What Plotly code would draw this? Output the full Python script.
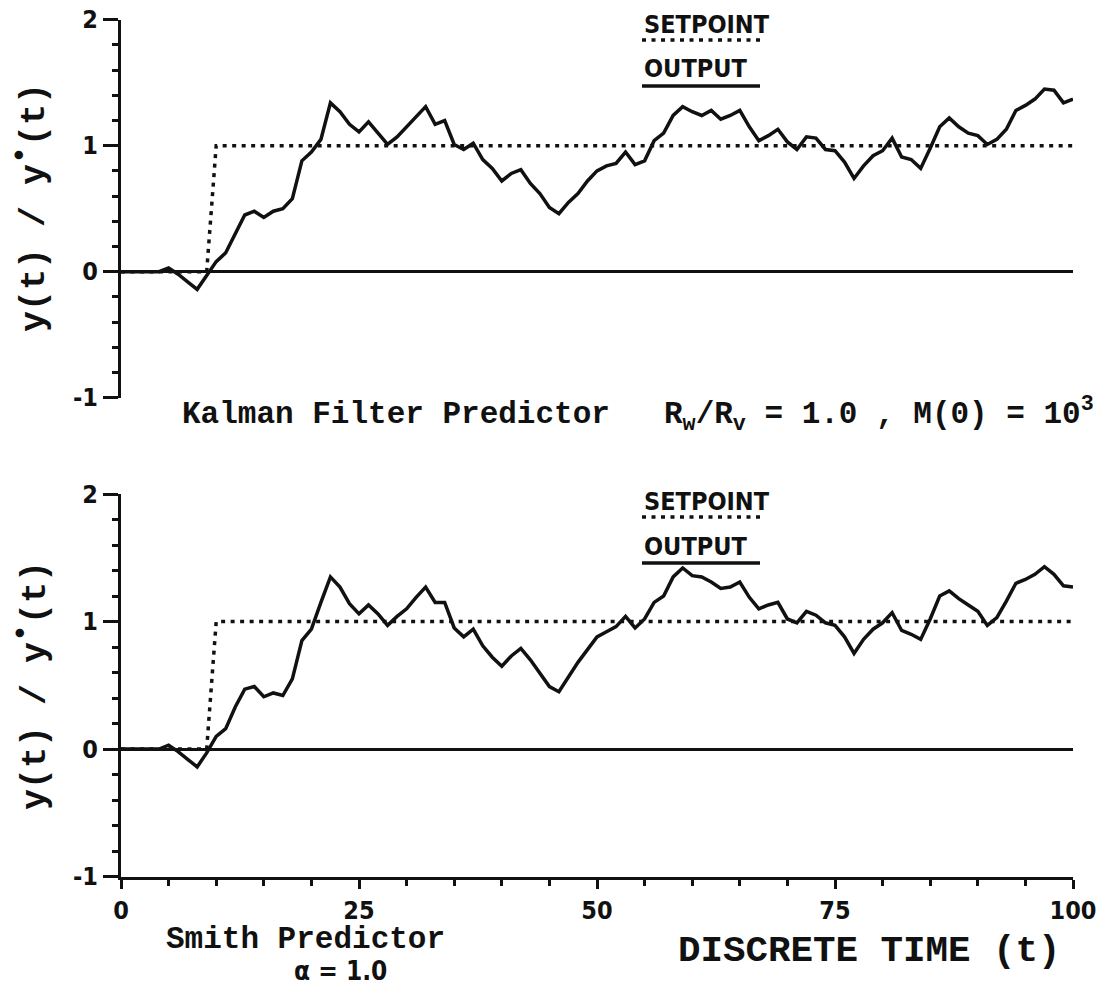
import plotly.graph_objects as go

# Discrete time axis (one sample per step)
t = list(range(0, 101))

# Output response, Kalman filter predictor
y_kalman = [
    0.00, 0.00, 0.00, 0.00, 0.00, 0.03, -0.02, -0.08, -0.14, -0.03,
    0.08, 0.15, 0.30, 0.45, 0.48, 0.43, 0.48, 0.50, 0.58, 0.88,
    0.95, 1.05, 1.34, 1.27, 1.17, 1.11, 1.19, 1.10, 1.01, 1.07,
    1.15, 1.23, 1.31, 1.17, 1.20, 1.01, 0.97, 1.02, 0.89, 0.82,
    0.72, 0.78, 0.81, 0.70, 0.62, 0.51, 0.46, 0.55, 0.62, 0.72,
    0.80, 0.84, 0.86, 0.95, 0.85, 0.88, 1.04, 1.10, 1.24, 1.31,
    1.27, 1.24, 1.28, 1.21, 1.24, 1.28, 1.15, 1.04, 1.08, 1.13,
    1.03, 0.97, 1.07, 1.06, 0.97, 0.96, 0.87, 0.74, 0.84, 0.92,
    0.96, 1.06, 0.91, 0.89, 0.82, 0.98, 1.15, 1.22, 1.15, 1.10,
    1.08, 1.01, 1.05, 1.13, 1.28, 1.32, 1.37, 1.45, 1.44, 1.34,
    1.37,
]

# Output response, Smith predictor
y_smith = [
    0.00, 0.00, 0.00, 0.00, 0.00, 0.03, -0.02, -0.08, -0.14, -0.03,
    0.10, 0.16, 0.33, 0.47, 0.49, 0.41, 0.44, 0.42, 0.55, 0.85,
    0.94, 1.15, 1.35, 1.27, 1.14, 1.06, 1.13, 1.06, 0.97, 1.04,
    1.10, 1.19, 1.27, 1.15, 1.15, 0.95, 0.88, 0.94, 0.81, 0.72,
    0.65, 0.73, 0.79, 0.70, 0.60, 0.49, 0.45, 0.57, 0.68, 0.78,
    0.88, 0.92, 0.96, 1.04, 0.95, 1.02, 1.15, 1.20, 1.35, 1.42,
    1.36, 1.35, 1.31, 1.26, 1.27, 1.31, 1.19, 1.10, 1.13, 1.15,
    1.02, 0.99, 1.08, 1.05, 0.99, 0.97, 0.88, 0.75, 0.86, 0.94,
    0.99, 1.07, 0.93, 0.90, 0.86, 1.02, 1.20, 1.24, 1.18, 1.13,
    1.08, 0.97, 1.03, 1.16, 1.30, 1.33, 1.37, 1.43, 1.37, 1.28,
    1.27,
]

# Setpoint step (breakpoints)
sp_t = [0, 9, 10, 100]
sp_y = [0, 0, 1, 1]

x_ticks = [0, 25, 50, 75, 100]
y_ticks = [-1, 0, 1, 2]
y_tick_text = ["-1", "0", "1", "2"]

W, H = 1102, 1008
MONO = "Liberation Mono, Courier New, monospace"
NARROW = "Liberation Sans Narrow, DejaVu Sans Condensed, Arial Narrow, sans-serif"
INK = "#111111"
DOT = "4px,5.5px"


def px(x):
    return x / W


def py(y):
    return 1 - y / H


fig = go.Figure()

for xa, ya, out in (("x", "y", y_kalman), ("x2", "y2", y_smith)):
    fig.add_trace(go.Scatter(x=sp_t, y=sp_y, xaxis=xa, yaxis=ya, mode="lines",
                             line=dict(color=INK, width=3.5, dash=DOT),
                             showlegend=False, hoverinfo="skip"))
    fig.add_trace(go.Scatter(x=t, y=out, xaxis=xa, yaxis=ya, mode="lines",
                             line=dict(color=INK, width=3.5),
                             showlegend=False))

x_dom = [px(121), px(1073)]

yaxis_common = dict(
    range=[-1, 2], showline=True, linewidth=3, linecolor=INK,
    ticks="outside", tickvals=y_ticks, ticktext=y_tick_text,
    ticklen=15, tickwidth=3, tickcolor=INK,
    minor=dict(dtick=0.2, ticks="outside", ticklen=6, tickwidth=2.5, tickcolor=INK),
    zeroline=True, zerolinewidth=3, zerolinecolor=INK,
    showgrid=False, fixedrange=True, automargin=False,
    tickfont=dict(family=NARROW, size=25, color=INK, weight="bold"),
)

fig.update_layout(
    width=W, height=H, autosize=False,
    margin=dict(l=0, r=0, t=0, b=0, pad=0, autoexpand=False),
    paper_bgcolor="white", plot_bgcolor="white",
    xaxis=dict(domain=x_dom, range=[0, 100], visible=False, anchor="y",
               automargin=False),
    yaxis=dict(domain=[py(397.7), py(19.7)], anchor="x", **yaxis_common),
    xaxis2=dict(
        domain=x_dom, range=[0, 100], anchor="y2", automargin=False,
        showline=True, linewidth=3, linecolor=INK,
        ticks="outside", tickvals=x_ticks, ticklen=9, tickwidth=3, tickcolor=INK,
        minor=dict(dtick=5, ticks="outside", ticklen=6, tickwidth=2.5, tickcolor=INK),
        showgrid=False, zeroline=False, fixedrange=True,
        tickfont=dict(family=NARROW, size=25, color=INK, weight="bold"),
    ),
    yaxis2=dict(domain=[py(876.6), py(494)], anchor="x2", **yaxis_common),
)


def label(text, x, y, font, size, xanchor="left", angle=0):
    return dict(text=text, x=px(x), y=py(y), xref="paper", yref="paper",
                xanchor=xanchor, yanchor="middle", textangle=angle, showarrow=False,
                font=dict(family=font, size=size, color=INK, weight="bold"))


BULLET = "<sup><span style='font-size:30px'>•</span></sup>"

ann = []
# y-axis titles
for yc in (208, 686):
    ann.append(label("y(t) / y" + BULLET + "(t)", 30, yc, MONO, 35, "center", -90))

# caption between panels
ann.append(label("Kalman Filter Predictor", 180, 414, MONO, 31))
ann.append(label("R<sub>w</sub>/R<sub>v</sub> = 1.0 , M(0) = 10<sup>3</sup>",
                 662, 414, MONO, 31))

# legend keys
for off in (0, 477):
    ann.append(label("SETPOINT", 642, 24 + off, NARROW, 25))
    ann.append(label("OUTPUT", 642, 69 + off, NARROW, 25))

# bottom captions
ann.append(label("Smith Predictor", 164, 939, MONO, 31))
ann.append(label("α = 1.0", 340, 971, NARROW, 26, "center"))
ann.append(label("DISCRETE TIME (t)", 676, 951, MONO, 37.5))

shapes = []
for off in (0, 477):
    shapes.append(dict(type="line", xref="paper", yref="paper",
                       x0=px(642), x1=px(760), y0=py(40 + off), y1=py(40 + off),
                       line=dict(color=INK, width=3.5, dash=DOT)))
    shapes.append(dict(type="line", xref="paper", yref="paper",
                       x0=px(642), x1=px(760), y0=py(86 + off), y1=py(86 + off),
                       line=dict(color=INK, width=3.5)))

fig.update_layout(annotations=ann, shapes=shapes)

fig.write_html(
    "out.html",
    post_script="document.body.style.margin='0';document.body.style.overflow='hidden';",
)
